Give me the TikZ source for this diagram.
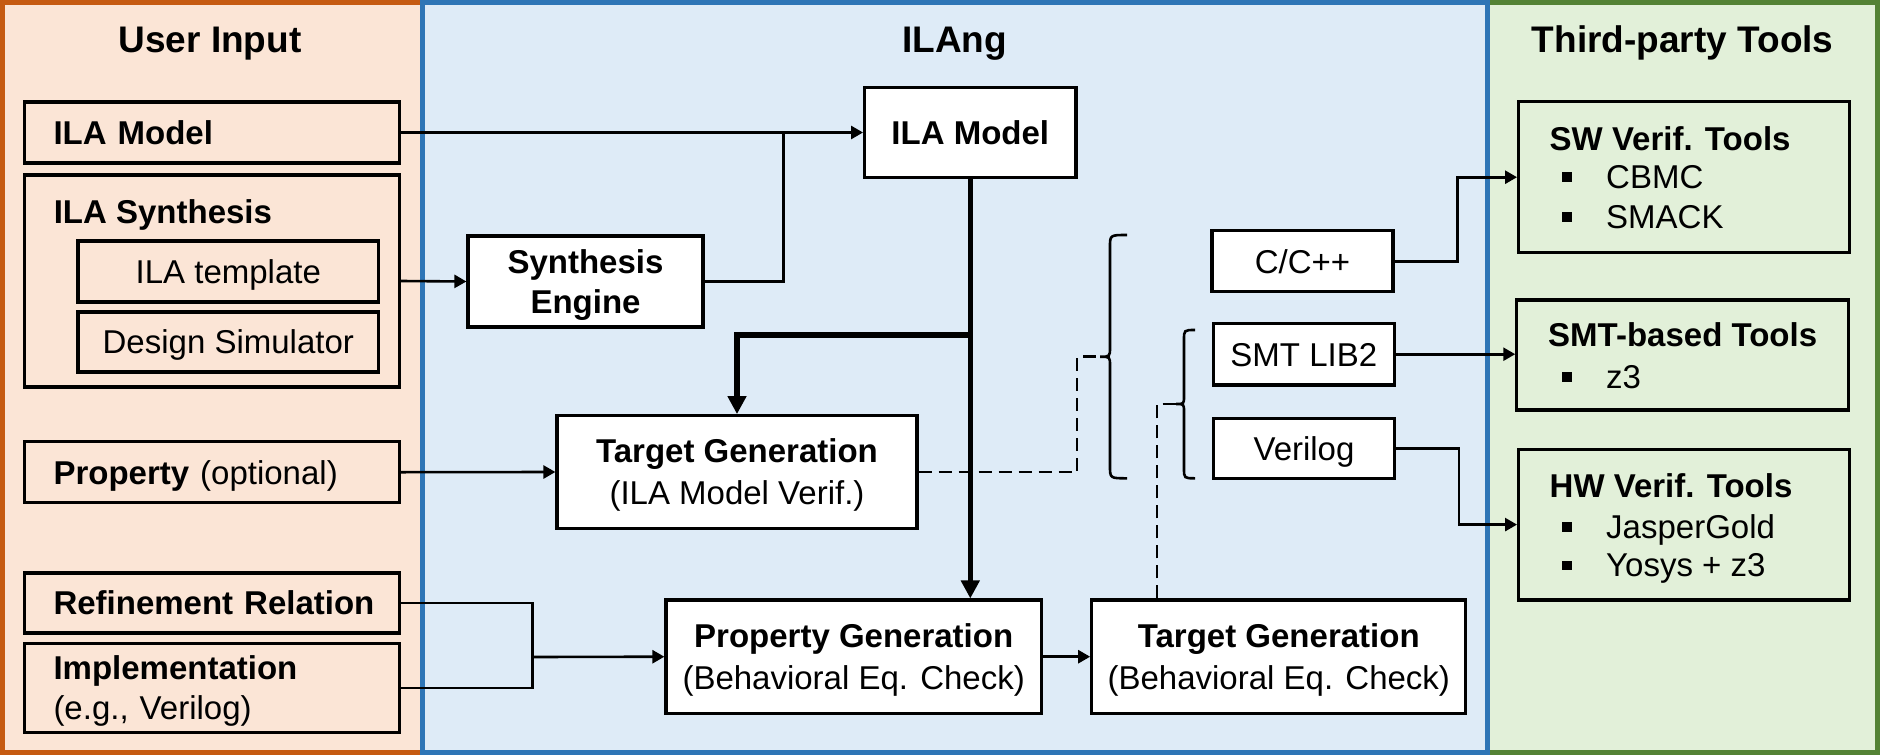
\documentclass[tikz,border=0pt]{standalone}
\usepackage{fontspec}
\setmainfont{Liberation Sans}
\usetikzlibrary{arrows.meta}
\definecolor{orbord}{HTML}{C55A11}
\definecolor{orfill}{HTML}{FBE5D6}
\definecolor{blbord}{HTML}{2E75B6}
\definecolor{blfill}{HTML}{DEEBF7}
\definecolor{grbord}{HTML}{548235}
\definecolor{grfill}{HTML}{E2F0D9}
\newcommand\boxfont{\fontsize{33}{42}\selectfont}
\newcommand\titlefont{\fontsize{37}{44}\selectfont\bfseries}
\begin{document}
\begin{tikzpicture}[x=1pt,y=-1pt,
  panel/.style={line width=5pt},
  box/.style={draw,line width=3.2pt,inner sep=0pt,font=\boxfont},
  wbox/.style={box,fill=white},
  one/.style={text height=23.6pt,text depth=0pt},
  two/.style={text height=65.6pt,text depth=0pt},
  twob/.style={text height=63.6pt,text depth=0pt},
  lbox/.style={box,minimum width=375pt,text width=317pt,inner xsep=29pt,align=left},
  conn/.style={line width=2.6pt},
  arr/.style={conn,-{Triangle[length=12pt,width=13pt]}},
  tarr/.style={line width=5.5pt,-{Triangle[length=18pt,width=18pt]}},
  dsh/.style={line width=2.6pt,dash pattern=on 13pt off 7pt},
  brc/.style={line width=2.6pt},
  ttl/.style={font=\titlefont,anchor=base},
  txt/.style={font=\boxfont,anchor=base west,inner sep=0pt},
  bul/.style={fill=black}
]
\useasboundingbox (0,0) rectangle (1880,755);
% panels
\draw[panel,draw=orbord,fill=orfill] (2.5,2.5) rectangle (422.5,752.5);
\draw[panel,draw=grbord,fill=grfill] (1487.5,2.5) rectangle (1877.5,752.5);
\draw[panel,draw=blbord,fill=blfill] (422.5,2.5) rectangle (1487.5,752.5);
% titles
\node[ttl] (tui) at (210,52) {User Input};
\node[ttl] (tila) at (954.7,52) {ILAng};
\node[ttl] (ttp) at (1682.7,52) {Third-party Tools};
% left boxes
\node[lbox,one,minimum height=61pt] (lm) at (212,132.5) {\bfseries ILA Model};
\node[box,minimum width=375pt,minimum height=212pt] (lsyn) at (212,281) {};
\node[txt,font=\boxfont\bfseries] (lsynt) at (53.6,223.8) {ILA Synthesis};
\node[box,one,minimum width=300.6pt,minimum height=61pt] (ltpl) at (228.3,271.5) {ILA template};
\node[box,one,minimum width=300.6pt,minimum height=60pt] (lsim) at (228.3,342) {Design Simulator};
\node[lbox,one,minimum height=61pt] (lprop) at (212,472.2) {\mbox{\textbf{Property} (optional)}};
\node[lbox,one,minimum height=60pt] (lref) at (212,603) {\mbox{\bfseries Refinement Relation}};
\node[lbox,text height=23.6pt,text depth=40pt,minimum height=89.6pt,font=\fontsize{33}{40}\selectfont] (limp) at (212,688) {\mbox{\textbf{Implementation}}\\\mbox{(e.g., Verilog)}};
% ILAng boxes
\node[wbox,twob,minimum width=235pt,minimum height=91pt,align=center,font=\fontsize{33}{40}\selectfont\bfseries] (se) at (585.5,281.5) {Synthesis\\Engine};
\node[wbox,one,minimum width=211.3pt,minimum height=90.4pt,font=\boxfont\bfseries] (ilam) at (970.3,132.5) {ILA Model};
\node[wbox,two,minimum width=360pt,minimum height=112.6pt,align=center] (tg1) at (737,472) {\textbf{Target Generation}\\(ILA Model Verif.)};
\node[wbox,two,minimum width=375.4pt,minimum height=113.3pt,align=center] (pg) at (853.7,656.7) {\textbf{Property Generation}\\(Behavioral Eq. Check)};
\node[wbox,two,minimum width=374.1pt,minimum height=113.3pt,align=center] (tg2) at (1278.8,656.7) {\textbf{Target Generation}\\(Behavioral Eq. Check)};
\node[wbox,one,minimum width=181.1pt,minimum height=61pt] (cpp) at (1302.5,261.2) {C/C++};
\node[wbox,one,minimum width=181.1pt,minimum height=61.7pt] (smt) at (1303.8,354.2) {SMT LIB2};
\node[wbox,one,minimum width=180.5pt,minimum height=60pt] (ver) at (1304,448.3) {Verilog};
% right boxes
\node[box,minimum width=331.1pt,minimum height=151pt] (sw) at (1684.2,177.2) {};
\node[txt,font=\boxfont\bfseries] (swt) at (1549.5,150.1) {SW Verif. Tools};
\fill[bul] (1562,172) rectangle (1571.5,181.5);
\node[txt] (sw1) at (1606,188.5) {CBMC};
\fill[bul] (1562,212) rectangle (1571.5,221.5);
\node[txt] (sw2) at (1606,228.5) {SMACK};
\node[box,minimum width=331.5pt,minimum height=110pt] (smtb) at (1682.6,355) {};
\node[txt,font=\boxfont\bfseries] (smtbt) at (1548,346.8) {SMT-based Tools};
\fill[bul] (1562,372) rectangle (1571.5,381.5);
\node[txt] (smtb1) at (1606,388.5) {z3};
\node[box,minimum width=331.1pt,minimum height=150.7pt] (hw) at (1684.2,524.6) {};
\node[txt,font=\boxfont\bfseries] (hwt) at (1549.5,497.8) {HW Verif. Tools};
\fill[bul] (1562,522) rectangle (1571.5,531.5);
\node[txt] (hw1) at (1606,538.5) {JasperGold};
\fill[bul] (1562,560.5) rectangle (1571.5,570);
\node[txt] (hw2) at (1606,576.8) {Yosys + z3};
% braces
\coordinate (bt) at (1100,356.7);
\coordinate (st) at (1176,404);
\draw[brc] (1127,235) .. controls (1110,235) .. (1110,247) -- (1110,347) .. controls (1110,356.7) .. (bt) .. controls (1110,356.7) .. (1110,366) -- (1110,466) .. controls (1110,478.3) .. (1127,478.3);
\draw[brc] (1195,330) .. controls (1184,330) .. (1184,340) -- (1184,396) .. controls (1184,404) .. (st) .. controls (1184,404) .. (1184,412) -- (1184,468) .. controls (1184,478.3) .. (1195,478.3);
% connectors
\coordinate (j1) at (783.5,132.5);
\coordinate (j2) at (532.6,657);
\coordinate (br) at (970.3,335);
\draw[arr] (lm.east) -- (ilam.west);
\draw[arr] (lsyn.east) -- (se.west);
\draw[conn] (se.east) -| (j1);
\draw[tarr] (ilam.south) -- (ilam.south |- pg.north);
\draw[tarr] (br) -| (tg1.north);
\draw[arr] (lprop.east) -- (tg1.west);
\draw[conn] (lref.east) -| (j2);
\draw[conn] (limp.east) -| (j2);
\draw[arr] (j2) -- (pg.west);
\draw[arr] (pg.east) -- (tg2.west);
\draw[dsh] (tg1.east) -- ++(158.5,0) |- (bt);
\draw[dsh] ([xshift=-121.8pt]tg2.north) |- (st);
\draw[arr] (cpp.east) -- ++(63,0) |- (sw.west);
\draw[arr] (smt.east) -- (smt.east -| smtb.west);
\draw[arr] (ver.east) -- ++(63.2,0) |- (hw.west);
\end{tikzpicture}
\end{document}
